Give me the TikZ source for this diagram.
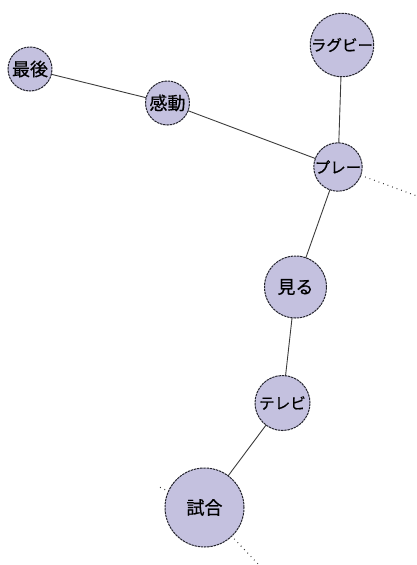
\documentclass[tikz,border=0pt]{standalone}
\usepackage{fontspec}
\usetikzlibrary{backgrounds}
\newfontfamily\jp{Noto Sans CJK JP}[FakeBold=0.6]
\definecolor{nodefill}{RGB}{196,193,223}
\definecolor{nodeedge}{RGB}{35,35,45}
\definecolor{edgecol}{RGB}{60,60,60}
\tikzset{
  word/.style={circle, fill=nodefill, draw=nodeedge, line width=1pt,
    dash pattern=on 2.4pt off 0.8pt, inner sep=0pt, text=black},
  kanji/.style={font=\jp\fontsize{18}{18}\selectfont},
  kana/.style={font=\jp\fontsize{15.5}{15.5}\selectfont},
  link/.style={draw=edgecol, line width=0.9pt},
  dotlink/.style={draw=edgecol, line width=1.1pt, dash pattern=on 0.8pt off 4pt},
}
\begin{document}
\begin{tikzpicture}[x=1pt,y=-1pt]
\useasboundingbox (0,0) rectangle (417,565);
\node[word, kanji, minimum size=44pt] (saigo) at (30,69) {最後};
\node[word, kanji, minimum size=44pt] (kando) at (167.5,103) {感動};
\node[word, kana, minimum size=62pt] (rugby) at (342,45) {ラグビー};
\node[word, kana, minimum size=45pt] (play) at (338,167) {プレー};
\node[word, kanji, minimum size=62pt] (miru) at (295.5,287) {見る};
\node[word, kana, minimum size=55pt] (tv) at (282.5,403) {テレビ};
\node[word, kanji, minimum size=79pt] (shiai) at (204.5,507.5) {試合};
\coordinate (outR) at (417,196);
\coordinate (outUL) at (157,486);
\coordinate (outDR) at (259,565);
\begin{scope}[on background layer]
\path[link] (saigo.center) -- (kando.center);
\path[link] (kando.center) -- (play.center);
\path[link] (rugby.center) -- (play.center);
\path[link] (play.center) -- (miru.center);
\path[link] (miru.center) -- (tv.center);
\path[link] (tv.center) -- (shiai.center);
\path[dotlink] (play.center) -- (outR);
\path[dotlink] (shiai.center) -- (outUL);
\path[dotlink] (shiai.center) -- (outDR);
\end{scope}
\end{tikzpicture}
\end{document}
